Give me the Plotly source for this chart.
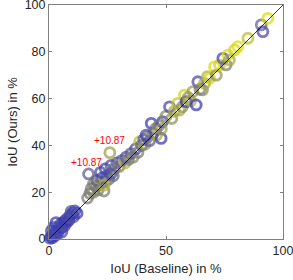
import plotly.graph_objects as go

# IoU baseline (x), IoU ours (y), colour value (0=blue, 0.5=grey, 1=yellow)
iou_baseline = [
    0.5, 1.0, 1.5, 2.0, 2.5, 3.0, 3.5, 4.0, 4.5, 5.0, 5.5, 6.0, 6.5, 7.0, 7.5, 8.0, 8.5, 9.0,
    10.0, 10.5, 11.0, 12.0, 2.0, 1.0, 3.0, 5.5, 9.5,
    16.5, 17.5, 18.0, 19.0, 20.0, 21.0, 22.0, 23.5, 24.0, 20.5, 22.5, 24.5, 25.5, 26.5, 27.5, 23.5, 19.0,
    22.0, 24.0, 26.5, 29.0, 28.0, 30.0, 31.0, 32.5, 33.0, 34.0, 35.0, 36.0, 37.0, 38.0, 38.7, 39.5,
    40.5, 41.0, 42.0, 43.0, 43.7, 44.5, 45.5, 46.0, 47.9, 48.5, 47.0, 48.0, 41.5,
    50.0, 51.5, 52.5, 53.5, 55.0, 55.8, 57.0, 57.9, 58.6, 59.5, 60.5, 61.5, 62.9, 63.6, 64.5, 65.6,
    66.5, 67.7, 68.6, 70.7, 71.5, 72.9, 74.3, 75.7, 76.4, 77.1, 79.3, 80.7, 85.0, 90.7, 91.4, 93.5,
    16.9, 26.0,
]
iou_ours = [
    0.3, 1.2, 0.5, 2.5, 1.5, 3.5, 2.0, 5.0, 4.0, 6.5, 5.0, 7.0, 5.5, 8.0, 7.0, 9.0, 8.0, 10.0,
    11.0, 9.5, 12.0, 11.0, 5.0, 3.5, 7.0, 3.0, 11.8,
    17.5, 19.5, 21.5, 20.0, 22.5, 21.0, 23.5, 20.5, 24.5, 25.0, 26.0, 27.0, 25.5, 28.0, 27.0, 23.0, 23.5,
    28.5, 30.0, 31.5, 32.5, 30.0, 31.0, 33.5, 32.5, 35.0, 34.0, 36.5, 35.0, 38.5, 37.0, 41.6, 40.0,
    42.5, 40.5, 43.5, 42.0, 49.4, 45.0, 47.0, 44.5, 43.0, 50.1, 48.5, 47.0, 44.4,
    52.5, 56.5, 51.5, 54.5, 58.0, 55.1, 56.5, 61.5, 58.7, 60.5, 59.0, 63.0, 57.3, 67.2, 64.0, 63.7,
    66.5, 69.4, 68.7, 73.6, 70.0, 74.4, 77.2, 74.4, 78.6, 76.5, 80.8, 82.2, 85.8, 91.5, 88.6, 94.3,
    27.8, 36.9,
]
colour_value = [
    0.1, 0.15, 0.1, 0.2, 0.1, 0.15, 0.2, 0.1, 0.15, 0.2, 0.1, 0.15, 0.2, 0.1, 0.15, 0.25, 0.1, 0.15,
    0.1, 0.2, 0.15, 0.1, 0.2, 0.15, 0.1, 0.2, 0.25,
    0.5, 0.45, 0.5, 0.55, 0.45, 0.5, 0.55, 0.5, 0.6, 0.3, 0.2, 0.25, 0.45, 0.2, 0.35, 0.75, 0.5,
    0.2, 0.15, 0.2, 0.25, 0.4, 0.5, 0.3, 0.75, 0.2, 0.45, 0.3, 0.55, 0.2, 0.5, 0.8, 0.35,
    0.25, 0.6, 0.45, 0.3, 0.1, 0.55, 0.4, 0.7, 0.1, 0.1, 0.5, 0.65, 0.15,
    0.55, 0.15, 0.6, 0.7, 0.85, 0.7, 0.6, 0.9, 0.05, 0.6, 0.75, 0.65, 0.1, 0.2, 0.5, 0.55,
    0.7, 0.75, 0.9, 0.95, 0.6, 0.9, 0.15, 0.5, 0.95, 0.7, 0.9, 0.95, 0.8, 0.35, 0.2, 0.95,
    0.3, 0.65,
]

annot_x = [16.0, 25.9]
annot_y = [32.5, 41.9]
annot_text = ["+10.87", "+10.87"]

diag = [0, 100]

FONT = "Liberation Sans, Arial, sans-serif"

fig = go.Figure()
fig.add_trace(go.Scatter(
    x=iou_baseline, y=iou_ours, mode="markers", cliponaxis=False,
    marker=dict(symbol="circle-open", size=10, opacity=0.72,
                color=colour_value, cmin=0, cmax=1,
                colorscale=[[0, "rgb(40,40,200)"], [0.5, "rgb(125,125,110)"], [1, "rgb(230,230,0)"]],
                line=dict(width=2.8)),
    showlegend=False, hoverinfo="skip"))
fig.add_trace(go.Scatter(x=diag, y=diag, mode="lines", cliponaxis=False,
                         line=dict(color="black", width=0.8), showlegend=False, hoverinfo="skip"))
for ax, ay, t in zip(annot_x, annot_y, annot_text):
    fig.add_annotation(x=ax, y=ay, text=t, showarrow=False,
                       font=dict(color="red", size=10, family=FONT))

axis_common = dict(range=[0, 100], showgrid=False, zeroline=False, showline=True,
                   linecolor="#808080", linewidth=1, mirror="ticks", ticks="inside",
                   ticklen=3, tickcolor="#808080", automargin=False,
                   ticklabeloverflow="allow",
                   tickfont=dict(size=12.5, color="#262626", family=FONT))
fig.update_xaxes(**axis_common, tickvals=[0, 50, 100],
                 title=dict(text="IoU (Baseline) in %", standoff=6,
                            font=dict(size=13, color="#262626", family=FONT)))
fig.update_yaxes(**axis_common, tickvals=[0, 20, 40, 60, 80, 100],
                 title=dict(text="IoU (Ours) in %", standoff=4,
                            font=dict(size=13, color="#262626", family=FONT)))
fig.update_layout(width=293, height=280, margin=dict(l=49, r=10, t=5, b=41, autoexpand=False),
                  plot_bgcolor="white", paper_bgcolor="white")
fig.write_html("out.html", config={"displayModeBar": False},
               post_script="document.body.style.margin='0px';document.body.style.overflow='hidden';")
